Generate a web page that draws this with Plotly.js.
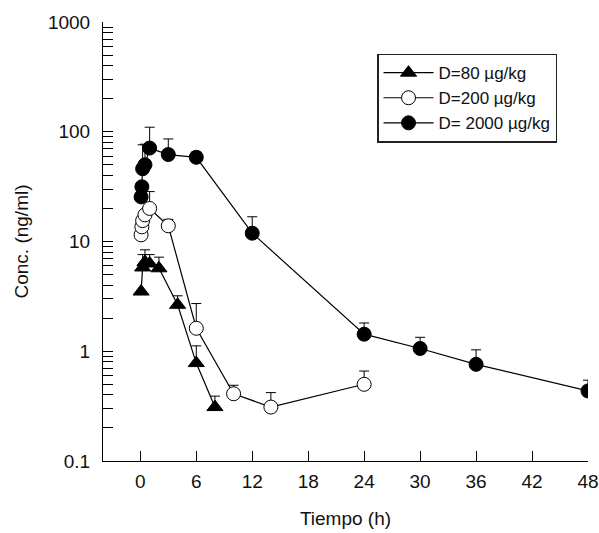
<!DOCTYPE html>
<html>
<head>
<meta charset="utf-8">
<script src="https://cdn.plot.ly/plotly-3.0.1.min.js"></script>
<style>
  html, body { margin: 0; padding: 0; background: #fff; }
  #chart { width: 599px; height: 533px; }
</style>
</head>
<body>
<div id="chart"></div>
<script>
// Plasma concentration–time profiles for three doses (mean + SD)
const time80 = [0.083, 0.25, 0.5, 1, 2, 4, 6, 8];
const conc80 = [3.5, 5.8, 6.5, 6.3, 5.7, 2.65, 0.78, 0.31];
const sd80   = [0, 1.8, 1.9, 1.3, 1.5, 0.55, 0.34, 0.08];

const time200 = [0.083, 0.167, 0.25, 0.5, 1, 3, 6, 10, 14, 24];
const conc200 = [11.5, 13.6, 15.5, 17.5, 20, 13.9, 1.62, 0.41, 0.31, 0.5];
const sd200   = [0, 0, 0, 0, 8.5, 2.0, 1.1, 0.08, 0.11, 0.16];

const time2000 = [0.083, 0.167, 0.25, 0.5, 1, 3, 6, 12, 24, 30, 36, 48];
const conc2000 = [25.5, 31.5, 46, 50, 71, 62, 58.5, 11.9, 1.43, 1.06, 0.76, 0.435];
const sd2000   = [0, 0, 30, 27, 39, 24, 7, 4.9, 0.38, 0.28, 0.27, 0.11];

const seriesNames = ['D=80 µg/kg', 'D=200 µg/kg', 'D= 2000 µg/kg'];
const xTicks = [0, 6, 12, 18, 24, 30, 36, 42, 48];
const yTicks = [0.1, 1, 10, 100, 1000];

const font = 'Liberation Sans, Arial, sans-serif';
const ink = '#111';

function series(x, y, sd, name, symbol, fill) {
  return {
    type: 'scatter', mode: 'lines+markers', name: name,
    x: x, y: y,
    line: { color: '#000', width: 1.2 },
    marker: { symbol: symbol, size: 14, color: fill, line: { color: '#000', width: 1 } },
    error_y: { type: 'data', array: sd, arrayminus: sd.map(() => 0), symmetric: false,
               color: '#000', thickness: 1, width: 5 }
  };
}

const data = [
  series(time80, conc80, sd80, seriesNames[0], 'triangle-up', '#000'),
  series(time200, conc200, sd200, seriesNames[1], 'circle', '#fff'),
  series(time2000, conc2000, sd2000, seriesNames[2], 'circle', '#000')
];

const layout = {
  width: 599, height: 533,
  margin: { l: 103, r: 11, t: 22, b: 72 },
  paper_bgcolor: '#fff', plot_bgcolor: '#fff',
  font: { family: font, size: 18, color: ink },
  showlegend: true,
  legend: {
    x: 0.565, y: 0.928, xanchor: 'left', yanchor: 'top',
    bgcolor: '#fff', bordercolor: '#222', borderwidth: 1.5,
    itemwidth: 50,
    font: { family: font, size: 17, color: ink }
  },
  xaxis: {
    range: [-4, 48], tickvals: xTicks, ticktext: xTicks.map(String),
    showgrid: false, zeroline: false,
    showline: true, linecolor: '#000', linewidth: 1,
    ticks: 'inside', ticklen: 10, tickcolor: '#000',
    ticklabelstandoff: 3,
    tickfont: { family: font, size: 19, color: ink },
    title: { text: 'Tiempo (h)', font: { family: font, size: 19, color: ink }, standoff: 20 }
  },
  yaxis: {
    type: 'log', range: [-1, 3], tickvals: yTicks, ticktext: ['0.1', '1', '10', '100', '1000'],
    showgrid: false, zeroline: false,
    showline: true, linecolor: '#000', linewidth: 1,
    ticks: 'inside', ticklen: 10, tickcolor: '#000',
    minor: { ticks: 'inside', ticklen: 10, tickcolor: '#000', dtick: 'D1', showgrid: false },
    ticklabelstandoff: 8,
    tickfont: { family: font, size: 19, color: ink },
    title: { text: 'Conc. (ng/ml)', font: { family: font, size: 19, color: ink }, standoff: 14 }
  }
};

Plotly.newPlot('chart', data, layout, { staticPlot: true, displayModeBar: false });
</script>
</body>
</html>
